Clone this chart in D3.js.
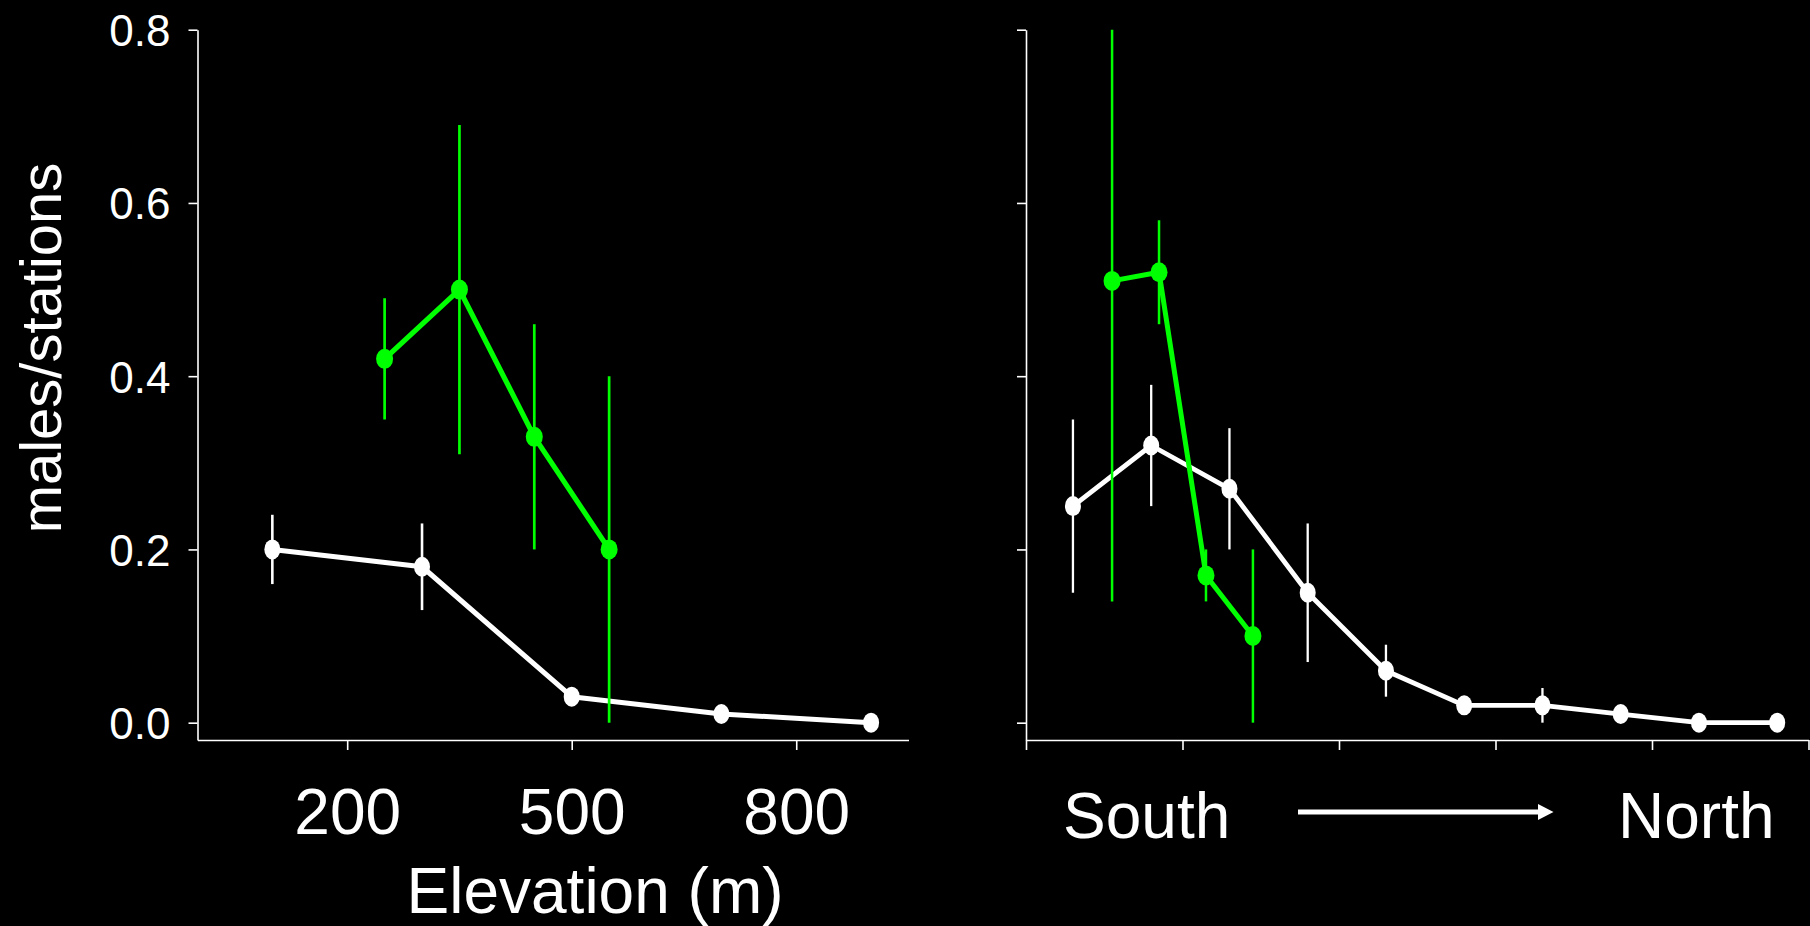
<!DOCTYPE html>
<html>
<head>
<meta charset="utf-8">
<script src="https://cdn.jsdelivr.net/npm/d3@7"></script>
<style>
  html, body { margin: 0; padding: 0; background: #000; }
  svg { display: block; }
  text { font-family: 'Liberation Sans', Arial, sans-serif; fill: #fff; }
</style>
</head>
<body>
<svg></svg>
<script>
let width = 1810;
let height = 926;

// elevation panel
let elevWhiteX = [100, 300, 500, 700, 900];
let elevWhiteY = [0.20, 0.18, 0.03, 0.01, 0.00];
let elevWhiteLo = [0.16, 0.13, 0.024, 0.005, 0.00];
let elevWhiteHi = [0.24, 0.23, 0.036, 0.015, 0.00];
let elevGreenX = [250, 350, 450, 550];
let elevGreenY = [0.42, 0.50, 0.33, 0.20];
let elevGreenLo = [0.35, 0.31, 0.20, 0.00];
let elevGreenHi = [0.49, 0.69, 0.46, 0.40];
let elevTicks = [200, 500, 800];

// south -> north panel
let latWhiteX = [0.3, 0.8, 1.3, 1.8, 2.3, 2.8, 3.3, 3.8, 4.3, 4.8];
let latWhiteY = [0.25, 0.32, 0.27, 0.15, 0.06, 0.02, 0.02, 0.01, 0.00, 0.00];
let latWhiteLo = [0.15, 0.25, 0.20, 0.07, 0.03, 0.015, 0.00, 0.005, 0.00, 0.00];
let latWhiteHi = [0.35, 0.39, 0.34, 0.23, 0.09, 0.025, 0.04, 0.015, 0.00, 0.00];
let latGreenX = [0.55, 0.85, 1.15, 1.45];
let latGreenY = [0.51, 0.52, 0.17, 0.10];
let latGreenLo = [0.14, 0.46, 0.14, 0.00];
let latGreenHi = [0.80, 0.58, 0.20, 0.20];
let latTicks = [0, 1, 2, 3, 4, 5];

let yTicks = [0, 0.2, 0.4, 0.6, 0.8];

let green = '#00ff00';
let white = '#ffffff';

let svg = d3.select('svg')
    .attr('width', width)
    .attr('height', height)

svg.append('rect')
    .attr('width', width)
    .attr('height', height)
    .attr('fill', '#000')

let y = d3.scaleLinear()
    .domain([-0.02, 0.8])
    .range([740, 29.7]);

let xElev = d3.scaleLinear()
    .domain([0, 950])
    .range([197.5, 908.5]);

let xLat = d3.scaleLinear()
    .domain([0, 5])
    .range([1026, 1808.5]);

function rows(xs, ys, lo, hi) {
    return xs.map(function (d, i) {
        return {x: d, y: ys[i], lo: lo[i], hi: hi[i]};
    });
}

function drawAxes(x, ticks, showLabels) {
    let yAxis = d3.axisLeft(y)
        .tickValues(yTicks)
        .tickSize(9)
        .tickSizeOuter(0)
        .tickPadding(18)
        .tickFormat(showLabels ? d3.format('.1f') : '');
    let gy = svg.append('g')
        .attr('transform', 'translate(' + x.range()[0] + ',0)')
        .call(yAxis);

    let xAxis = d3.axisBottom(x)
        .tickValues(ticks)
        .tickSize(10)
        .tickSizeOuter(0)
        .tickPadding(39)
        .tickFormat(showLabels ? d3.format('d') : '');
    let gx = svg.append('g')
        .attr('transform', 'translate(0,' + y.range()[0] + ')')
        .call(xAxis);

    [gy, gx].forEach(function (g) {
        g.selectAll('path, line')
            .attr('stroke', white)
            .attr('stroke-width', 1.6);
        g.selectAll('text')
            .attr('fill', white)
            .style('font-family', "'Liberation Sans', Arial, sans-serif");
    });
    gy.selectAll('text')
        .style('font-size', '44px')
        .attr('dy', '0.36em');
    gx.selectAll('text')
        .style('font-size', '64px');
}

function drawSeries(x, data, color, lineW, barW, rx, ry) {
    let line = d3.line()
        .x(d => x(d.x))
        .y(d => y(d.y));

    svg.append('path')
        .datum(data)
        .attr('d', line)
        .attr('fill', 'none')
        .attr('stroke', color)
        .attr('stroke-width', lineW)
        .attr('stroke-linejoin', 'round');

    svg.append('g').selectAll('line')
        .data(data.filter(d => d.hi > d.lo))
        .enter()
        .append('line')
        .attr('x1', d => x(d.x))
        .attr('x2', d => x(d.x))
        .attr('y1', d => y(d.lo))
        .attr('y2', d => y(d.hi))
        .attr('stroke', color)
        .attr('stroke-width', barW);

    svg.append('g').selectAll('ellipse')
        .data(data)
        .enter()
        .append('ellipse')
        .attr('cx', d => x(d.x))
        .attr('cy', d => y(d.y))
        .attr('rx', rx)
        .attr('ry', ry)
        .attr('fill', color);
}

// left panel
drawAxes(xElev, elevTicks, true);
drawSeries(xElev, rows(elevWhiteX, elevWhiteY, elevWhiteLo, elevWhiteHi), white, 5, 2.6, 8, 10);
drawSeries(xElev, rows(elevGreenX, elevGreenY, elevGreenLo, elevGreenHi), green, 5.2, 2.7, 8.5, 10);

svg.append('text')
    .attr('x', 595)
    .attr('y', 913)
    .attr('text-anchor', 'middle')
    .style('font-size', '64px')
    .text('Elevation (m)');

svg.append('text')
    .attr('transform', 'translate(61,348) rotate(-90)')
    .attr('text-anchor', 'middle')
    .style('font-size', '58px')
    .text('males/stations');

// right panel
drawAxes(xLat, latTicks, false);
drawSeries(xLat, rows(latWhiteX, latWhiteY, latWhiteLo, latWhiteHi), white, 4.8, 2.3, 8, 10);
drawSeries(xLat, rows(latGreenX, latGreenY, latGreenLo, latGreenHi), green, 5, 2.5, 8.5, 10);

svg.append('text')
    .attr('x', 1063)
    .attr('y', 838)
    .style('font-size', '64px')
    .text('South');

svg.append('text')
    .attr('x', 1618)
    .attr('y', 838)
    .style('font-size', '64px')
    .text('North');

svg.append('line')
    .attr('x1', 1298)
    .attr('x2', 1540)
    .attr('y1', 812)
    .attr('y2', 812)
    .attr('stroke', white)
    .attr('stroke-width', 5);

svg.append('path')
    .attr('d', 'M1538,804 L1553.5,812 L1538,820 Z')
    .attr('fill', white);
</script>
</body>
</html>
